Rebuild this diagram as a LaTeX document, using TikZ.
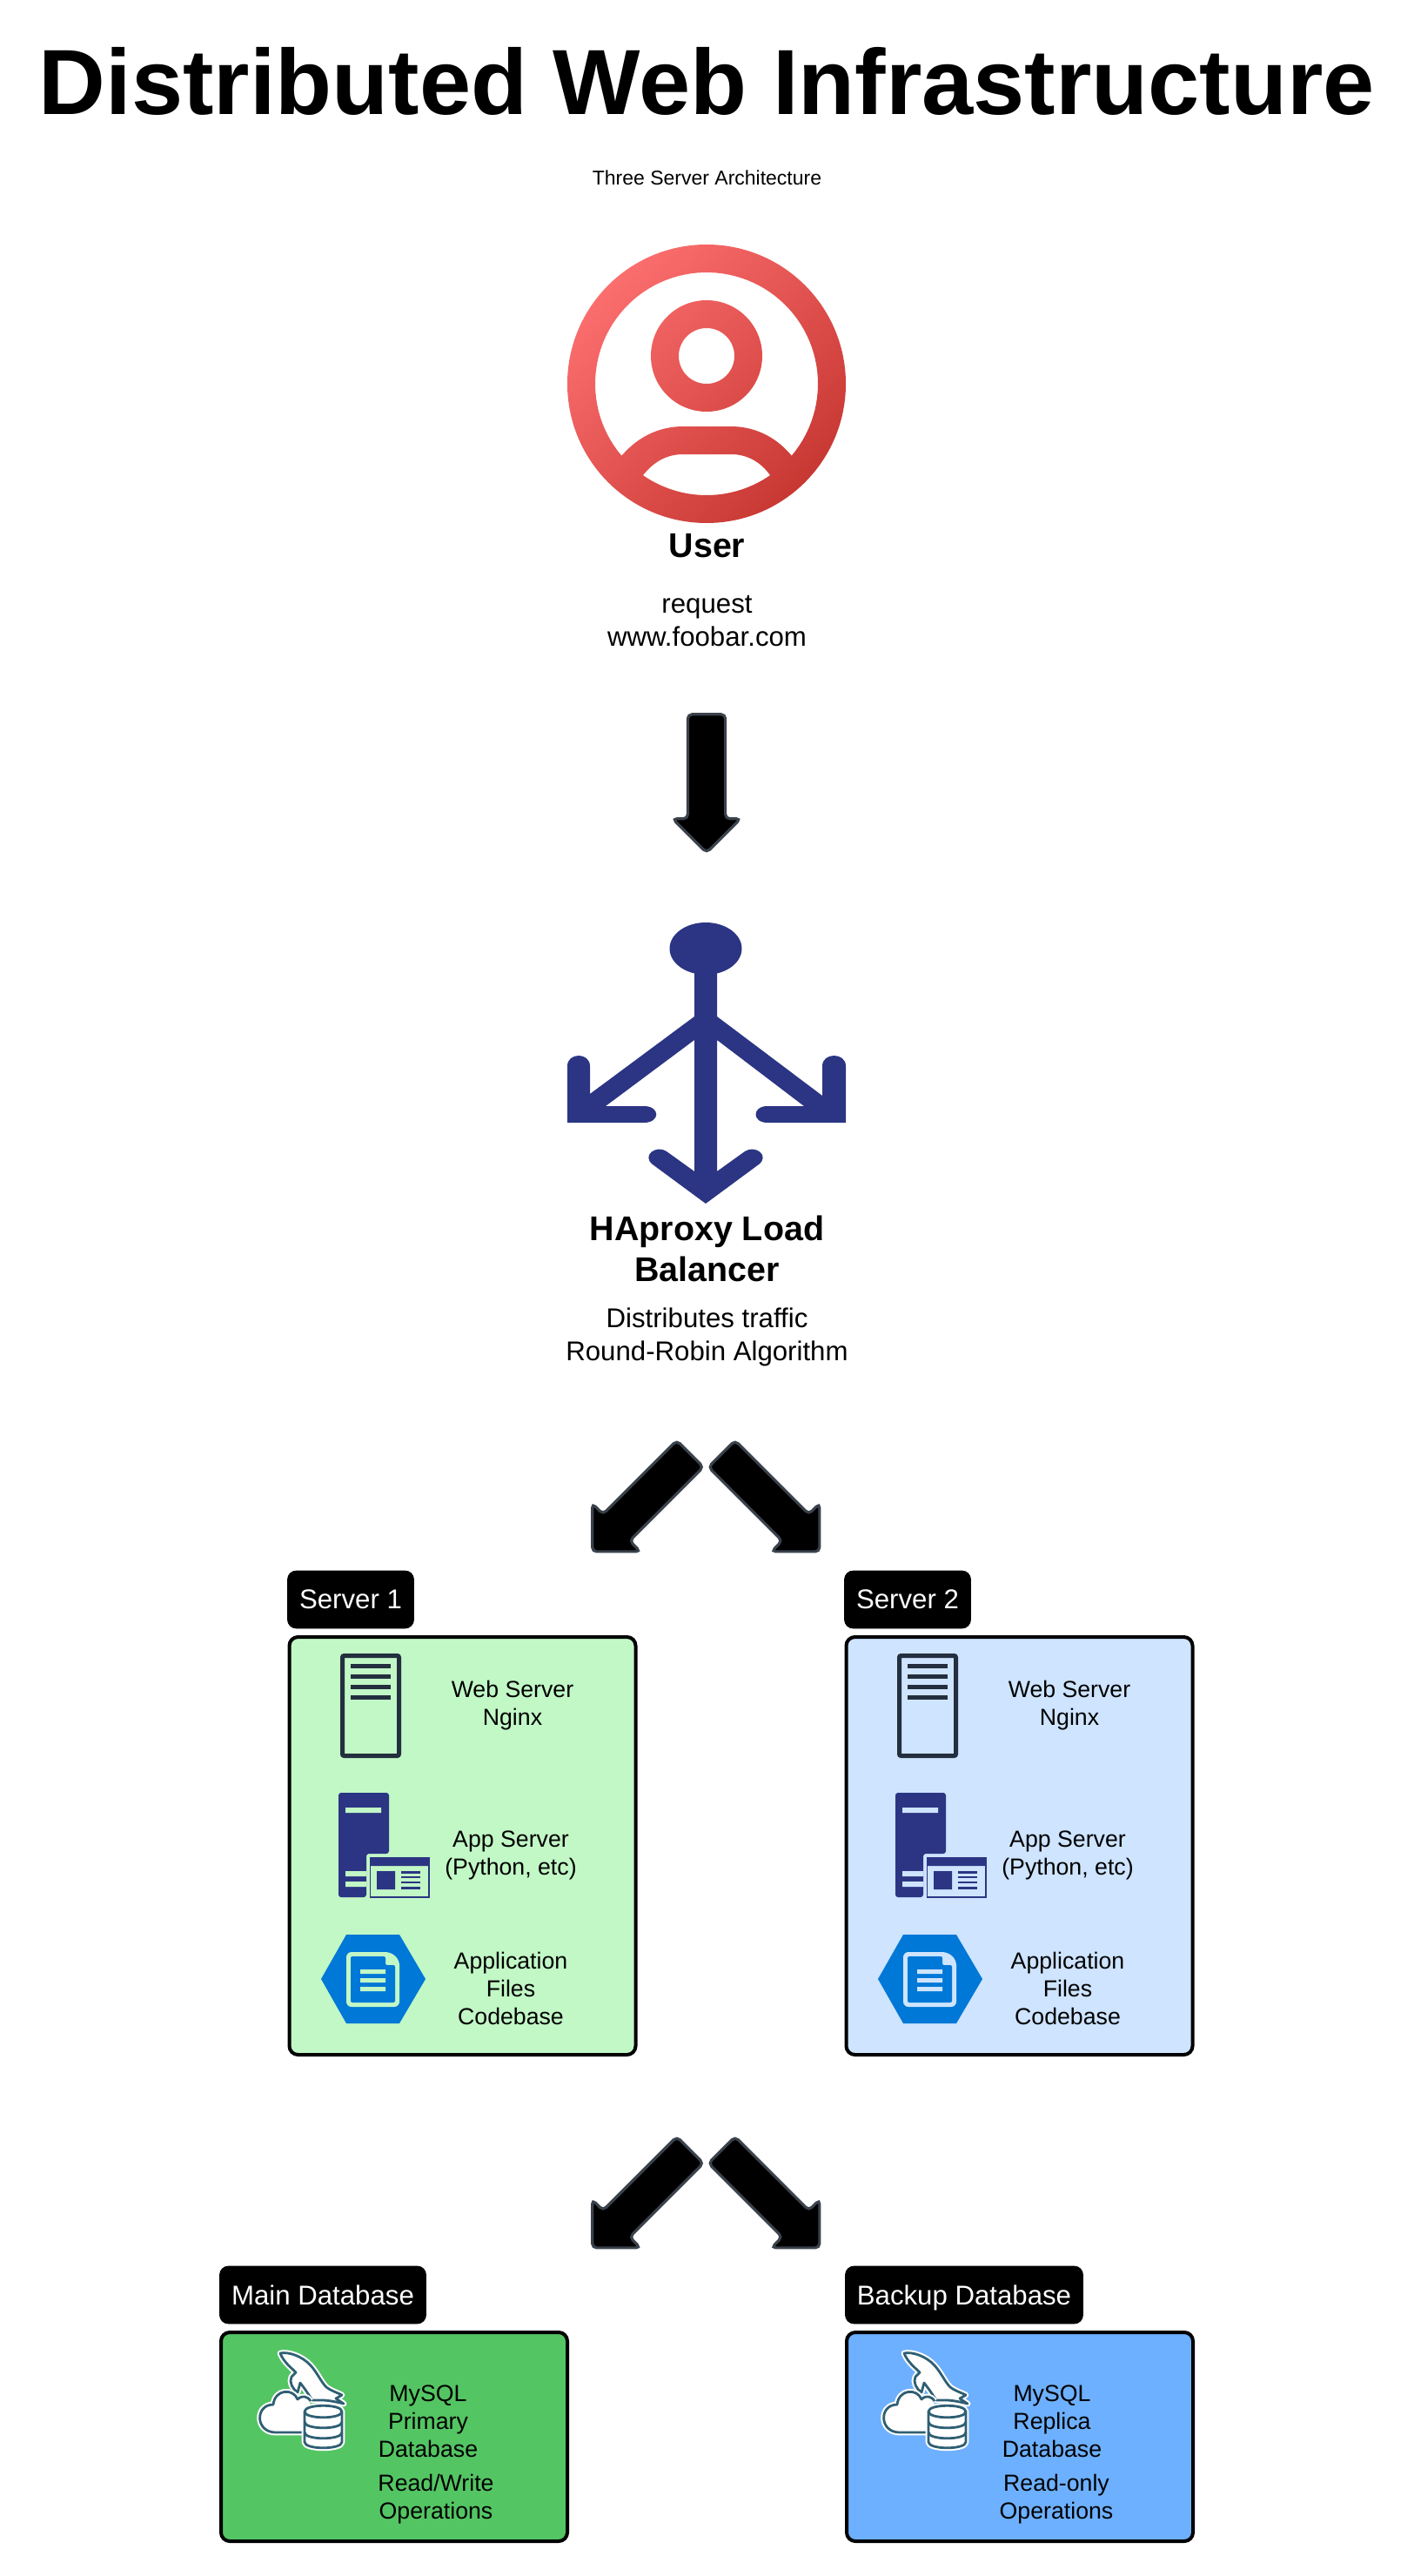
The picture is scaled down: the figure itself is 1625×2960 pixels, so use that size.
\documentclass[tikz,border=0pt]{standalone}
\usepackage{fontspec}
\setmainfont{Liberation Sans}
\usetikzlibrary{shapes.arrows}
\definecolor{userLight}{HTML}{FB6E6E}
\definecolor{userDark}{HTML}{C83833}
\definecolor{lbBlue}{HTML}{2B3583}
\definecolor{rackDark}{HTML}{232F3E}
\definecolor{hexBlue}{HTML}{0078D7}
\definecolor{dbTeal}{HTML}{2F5F73}
\definecolor{arrowEdge}{HTML}{3A424C}
\definecolor{srvGreen}{HTML}{C2F7C6}
\definecolor{srvBlue}{HTML}{CEE4FF}
\definecolor{dbGreen}{HTML}{54C563}
\definecolor{dbBlue}{HTML}{6DB0FF}
\tikzset{
	titletxt/.style={font=\bfseries\fontsize{53.2}{60}\selectfont, inner sep=0pt},
	subtxt/.style={font=\fontsize{11.5}{14}\selectfont, inner sep=0pt},
	headtxt/.style={font=\bfseries\fontsize{19.7}{23.8}\selectfont, align=center, inner sep=0pt},
	bodytxt/.style={font=\fontsize{15.6}{19}\selectfont, align=center, inner sep=0pt},
	smalltxt/.style={font=\fontsize{13.35}{16}\selectfont, align=center, inner sep=0pt},
	blockarrow/.style={draw=arrowEdge, fill=black, line width=1.6pt, single arrow, inner xsep=0pt, inner ysep=10pt, outer sep=0pt,
		minimum height=79.5pt, minimum width=37.5pt, single arrow head extend=8.75pt, rounded corners=2.5pt},
	tagbox/.style={fill=black, draw=black, text=white, rounded corners=5pt, inner sep=0pt, outer sep=0pt,
		minimum height=33pt, text depth=0pt, font=\fontsize{15.6}{19}\selectfont},
	groupbox/.style={draw=black, line width=2pt, rounded corners=5pt, inner sep=0pt, outer sep=0pt, minimum width=199pt},
	sqlline/.style={dbTeal, line width=1.4pt, line join=round},
	sqlbody/.style={sqlline, fill=white, preaction={draw=white, line width=3.4pt, line join=round}},
	pics/rackicon/.style={code={
		\draw[rackDark, line width=2.5pt, rounded corners=1pt] (2.5,2.5) rectangle (67.5,117.5);
		\foreach \ly in {14,26,38,50}
			\draw[rackDark, line width=2.5pt] (12,\ly) -- (58,\ly);
	}},
	pics/appicon/.style={code={
		\fill[lbBlue, rounded corners=1.5pt] (0,120) -- (0,0) -- (58,0) -- (58,70) -- (32,70) -- (32,120) -- cycle;
		\fill[#1] (8,17) rectangle (49,23) (8,90) rectangle (32,96) (8,102) rectangle (32,108);
		\draw[lbBlue, line width=0.8pt, fill=#1] (36.5,74.5) rectangle (104,120);
		\fill[lbBlue] (36,74) rectangle (104,84) (44,90) rectangle (65,111);
		\foreach \ly in {91.5,97,103,109.5}
			\draw[lbBlue, line width=1.2pt] (72,\ly) -- (94,\ly);
	}},
	pics/hexicon/.style={code={
		\fill[hexBlue] (0,51) -- (29,0) -- (90,0) -- (120,51) -- (90,102) -- (29,102) -- cycle;
		\fill[#1, rounded corners=3pt] (29,20) -- (80,20) -- (90,29) -- (90,83) -- (29,83) -- cycle;
		\fill[hexBlue, rounded corners=1pt] (34,25) -- (74,25) -- (74,35) -- (85,35) -- (85,78) -- (34,78) -- cycle;
		\fill[#1] (45,40) rectangle (74,45) (45,50) rectangle (74,55) (45,60) rectangle (74,65);
	}},
	pics/mysqlicon/.style={code={
		\draw[sqlbody]
			(37,14) .. controls (46,12) and (62,17) .. (72,28) .. controls (80,37) and (84,47) .. (90,53)
			.. controls (95,57) and (102,59) .. (108,62) -- (101,66) -- (110,72)
			.. controls (102,70) and (92,68) .. (86,68) -- (74,68) -- (66,56) -- (60,48) -- (57,59)
			.. controls (51,55) and (47,47) .. (50,41) -- (55,36) .. controls (49,30) and (41,24) .. (37,14) -- cycle;
		\draw[sqlbody]
			(64,105) -- (32,105) .. controls (8,105) and (8,73) .. (29,73) .. controls (31,55) and (52,54) .. (57,67)
			.. controls (62,62) and (68,63) .. (72,69);
		\draw[sqlbody]
			(65,81) -- (65,116) .. controls (65,125) and (108,125) .. (108,116) -- (108,81)
			.. controls (108,72) and (65,72) .. (65,81) -- cycle;
		\draw[sqlline] (65,81) .. controls (65,90) and (108,90) .. (108,81);
		\draw[sqlline] (65,93) .. controls (65,102) and (108,102) .. (108,93);
		\draw[sqlline] (65,105) .. controls (65,114) and (108,114) .. (108,105);
	}},
}
\begin{document}
\begin{tikzpicture}[x=0.5pt, y=-0.5pt]
		\useasboundingbox (0,0) rectangle (1625,2960);

		\node[titletxt, anchor=base] (title) at (812.5,132) {Distributed Web Infrastructure};
		\node[subtxt] (sub) at (812.5,204) {Three Server Architecture};

		\path[even odd rule, top color=userLight, bottom color=userDark, shading angle=45]
			(812,441) circle[radius=160]
			plot[domain=139.8:400.2, samples=80] ({812+128*cos(\x)},{441+128*sin(\x)})
			.. controls (890,500) and (865,490) .. (840,490) -- (785,490) .. controls (760,490) and (735,500) .. (715,523) -- cycle
			(812,409) circle[radius=64]
			(812,409) circle[radius=32]
			plot[domain=55.2:124.8, samples=40] ({812+128*cos(\x)},{441+128*sin(\x)})
			.. controls (750,532) and (765,522) .. (785,522) -- (840,522) .. controls (860,522) and (875,532) .. (885,546) -- cycle;
		\node[headtxt, anchor=base] (usr) at (812.5,640) {User};
		\node[bodytxt] (req) at (812.5,714) {request\\www.foobar.com};
		\node[blockarrow, rotate=-90] (reqArrow) at (812,889.5) {};

		\fill[lbBlue] (811,1090) ellipse[x radius=41.5, y radius=30];
		\fill[lbBlue] (798,1090) -- (824,1090) -- (824,1168) -- (945,1259) -- (945,1225) .. controls (945,1209) and (972,1209) .. (972,1225)
			-- (972,1290) -- (882,1290) .. controls (864,1290) and (864,1271) .. (882,1271) -- (924,1271) -- (824,1195) -- (824,1346)
			-- (856,1323) .. controls (868,1315) and (885,1328) .. (872,1338) -- (811,1383) -- (750,1338) .. controls (737,1328) and (754,1315) .. (766,1323)
			-- (798,1346) -- (798,1195) -- (696,1271) -- (740,1271) .. controls (759,1271) and (759,1290) .. (740,1290) -- (652,1290)
			-- (652,1225) .. controls (652,1209) and (678,1209) .. (678,1225) -- (678,1257) -- (798,1168) -- cycle;
		\node[headtxt] (lb) at (812.5,1435) {HAproxy Load\\Balancer};
		\node[bodytxt] (lbInfo) at (812.5,1536) {Distributes traffic\\Round-Robin Algorithm};

		\node[blockarrow, rotate=-135] (lbLeft) at (744.5,1719) {};
		\node[blockarrow, rotate=-45] (lbRight) at (878,1719) {};

		\node[tagbox, minimum width=72.5pt] (tagOne) at (403,1838) {Server 1};
		\node[tagbox, minimum width=72.5pt] (tagTwo) at (1043,1838) {Server 2};
		\node[groupbox, minimum height=240pt, fill=srvGreen] (srvOne) at (531.5,2121) {};
		\node[groupbox, minimum height=240pt, fill=srvBlue] (srvTwo) at (1171.5,2121) {};

		\pic (rackOne) at (391,1900) {rackicon};
		\pic (appOne) at (389,2060) {appicon=srvGreen};
		\pic (hexOne) at (369,2223) {hexicon=srvGreen};
		\node[smalltxt] (webOne) at (589,1960) {Web Server\\Nginx};
		\node[smalltxt] (phpOne) at (587,2132) {App Server\\(Python, etc)};
		\node[smalltxt] (codeOne) at (587,2285) {Application\\Files\\Codebase};

		\pic (rackTwo) at (1031,1900) {rackicon};
		\pic (appTwo) at (1029,2060) {appicon=srvBlue};
		\pic (hexTwo) at (1009,2223) {hexicon=srvBlue};
		\node[smalltxt] (webTwo) at (1229,1960) {Web Server\\Nginx};
		\node[smalltxt] (phpTwo) at (1227,2132) {App Server\\(Python, etc)};
		\node[smalltxt] (codeTwo) at (1227,2285) {Application\\Files\\Codebase};

		\node[blockarrow, rotate=-135] (srvLeft) at (744.5,2519) {};
		\node[blockarrow, rotate=-45] (srvRight) at (878,2519) {};

		\node[tagbox, minimum width=118.5pt] (tagMain) at (371,2637) {Main Database};
		\node[tagbox, minimum width=136.5pt] (tagBackup) at (1108,2637) {Backup Database};
		\node[groupbox, minimum height=120pt, fill=dbGreen] (dbMain) at (453,2800) {};
		\node[groupbox, minimum height=120pt, fill=dbBlue] (dbBackup) at (1172,2800) {};

		\pic (sqlMain) at (285,2690) {mysqlicon};
		\pic (sqlBackup) at (1002,2690) {mysqlicon};
		\node[smalltxt] (mainName) at (492,2782) {MySQL\\Primary\\Database};
		\node[smalltxt] (mainOps) at (501,2872) {Read/Write\\Operations};
		\node[smalltxt] (backupName) at (1209,2782) {MySQL\\Replica\\Database};
		\node[smalltxt] (backupOps) at (1214,2872) {Read-only\\Operations};
\end{tikzpicture}
\end{document}
